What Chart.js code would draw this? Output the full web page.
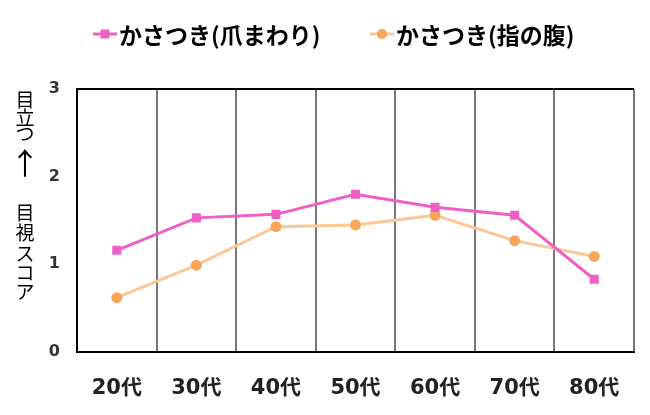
<!DOCTYPE html>
<html>
<head>
<meta charset="utf-8">
<script src="https://cdn.jsdelivr.net/npm/chart.js@4"></script>
<style>
  html, body { margin: 0; padding: 0; background: #fff; }
  #wrap { width: 650px; height: 415px; position: relative; }
</style>
</head>
<body>
<div id="wrap"><canvas id="c" width="650" height="415"></canvas></div>
<script>
const categories = ['20代', '30代', '40代', '50代', '60代', '70代', '80代'];
const seriesNames = ['かさつき(爪まわり)', 'かさつき(指の腹)'];
const nailValues = [1.16, 1.53, 1.57, 1.80, 1.65, 1.56, 0.83];
const padValues = [0.62, 0.99, 1.43, 1.45, 1.56, 1.27, 1.09];
const yTicks = [0, 1, 2, 3];
const yTitleTop = ['目', '立', 'つ'];
const yTitleArrow = '↑';
const yTitleBottom = ['目', '視', 'ス', 'コ', 'ア'];

const PINK = '#EF60C7';
const ORANGE_LINE = '#FAC796';
const ORANGE_PT = '#F9A55A';

const legendPlugin = {
  id: 'customLegend',
  afterDraw(chart) {
    const ctx = chart.ctx;
    const y = 34;
    const items = [
      { x: 93, ds: chart.data.datasets[0] },
      { x: 370, ds: chart.data.datasets[1] }
    ];
    ctx.save();
    items.forEach(it => {
      const ds = it.ds;
      ctx.strokeStyle = ds.borderColor;
      ctx.lineWidth = 3;
      ctx.beginPath();
      ctx.moveTo(it.x, y);
      ctx.lineTo(it.x + 24, y);
      ctx.stroke();
      ctx.fillStyle = ds.pointBackgroundColor;
      if (ds.pointStyle === 'rect') {
        ctx.fillRect(it.x + 12 - 4.5, y - 4.5, 9, 9);
      } else {
        ctx.beginPath();
        ctx.arc(it.x + 12, y, 5, 0, Math.PI * 2);
        ctx.fill();
      }
      ctx.fillStyle = '#000';
      ctx.font = 'bold 23px "Noto Sans CJK JP"';
      ctx.textBaseline = 'middle';
      ctx.textAlign = 'left';
      ctx.fillText(ds.label, it.x + 26, y + 1);
    });
    ctx.restore();
  }
};

const yTitlePlugin = {
  id: 'yTitle',
  afterDraw(chart) {
    const ctx = chart.ctx;
    const x = 25;
    ctx.save();
    ctx.fillStyle = '#000';
    ctx.textAlign = 'center';
    ctx.textBaseline = 'middle';
    ctx.font = '19px "Noto Sans CJK JP"';
    const topY = [100, 118, 134];
    yTitleTop.forEach((ch, i) => ctx.fillText(ch, x, topY[i]));
    const botY = [213, 233, 254, 273, 292];
    yTitleBottom.forEach((ch, i) => ctx.fillText(ch, x, botY[i]));
    ctx.font = '30px "Noto Sans CJK JP"';
    ctx.fillText(yTitleArrow, x, 163);
    ctx.restore();
  }
};

new Chart(document.getElementById('c'), {
  type: 'line',
  data: {
    labels: categories,
    datasets: [
      {
        label: seriesNames[0],
        data: nailValues,
        borderColor: PINK,
        backgroundColor: PINK,
        pointBackgroundColor: PINK,
        pointBorderColor: PINK,
        pointStyle: 'rect',
        pointRadius: 6.4,
        pointBorderWidth: 0,
        borderWidth: 3,
        tension: 0
      },
      {
        label: seriesNames[1],
        data: padValues,
        borderColor: ORANGE_LINE,
        backgroundColor: ORANGE_PT,
        pointBackgroundColor: ORANGE_PT,
        pointBorderColor: ORANGE_PT,
        pointStyle: 'circle',
        pointRadius: 5.5,
        pointBorderWidth: 0,
        borderWidth: 3,
        tension: 0
      }
    ]
  },
  options: {
    responsive: false,
    animation: false,
    layout: { padding: { top: 89, right: 16, bottom: 0, left: 0 } },
    plugins: {
      legend: { display: false },
      tooltip: { enabled: false }
    },
    scales: {
      x: {
        type: 'category',
        offset: true,
        grid: {
          display: true,
          offset: true,
          drawTicks: false,
          lineWidth: 2,
          color: (c) => (c.index === 0 || c.index === categories.length) ? '#000' : '#777777'
        },
        border: { display: true, color: '#000', width: 2 },
        ticks: {
          color: '#222',
          font: { family: '"DejaVu Sans", "Noto Sans CJK JP"', size: 21, weight: 'bold' },
          padding: 24,
          maxRotation: 0,
          autoSkip: false
        },
        afterFit: (s) => { s.height = 63; }
      },
      y: {
        min: 0,
        max: 3,
        afterBuildTicks: (s) => { s.ticks = yTicks.map(v => ({ value: v })); },
        grid: {
          display: true,
          drawTicks: false,
          lineWidth: 2,
          color: (c) => (c.tick && (c.tick.value === 0 || c.tick.value === 3)) ? '#000' : 'rgba(0,0,0,0)'
        },
        border: { display: true, color: '#000', width: 2 },
        ticks: {
          color: '#333',
          font: { family: '"DejaVu Sans"', size: 16, weight: 'bold' },
          padding: 17
        },
        afterFit: (s) => { s.width = 77; }
      }
    }
  },
  plugins: [legendPlugin, yTitlePlugin]
});
</script>
</body>
</html>
